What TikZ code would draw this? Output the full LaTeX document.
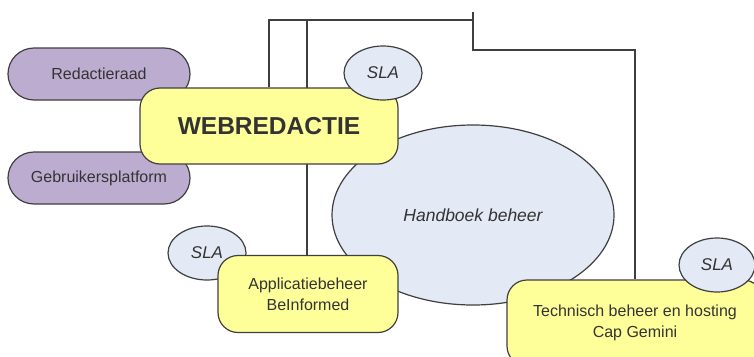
\documentclass[tikz,border=0pt]{standalone}
\usepackage{fontspec}
\setmainfont{Liberation Sans}
\usetikzlibrary{positioning,shapes.geometric,backgrounds}
\definecolor{lilac}{HTML}{BCADD0}
\definecolor{paleyellow}{HTML}{FFFF99}
\definecolor{paleblue}{HTML}{E3E9F5}
\definecolor{edgegray}{HTML}{3F3F3F}
\definecolor{textgray}{HTML}{333333}

\begin{document}
\begin{tikzpicture}[x=1pt, y=-1pt,
  every node/.style={draw=edgegray, line width=1.2pt, inner sep=0pt, text=textgray, align=center},
  pill/.style={fill=lilac, rounded corners=26pt, minimum width=182pt, minimum height=52pt, font=\fontsize{16}{18}\selectfont},
  unit/.style={fill=paleyellow, rounded corners=20pt, font=\fontsize{16}{21}\selectfont},
  sla/.style={ellipse, fill=paleblue, minimum width=78pt, minimum height=54pt, font=\fontsize{17}{20}\selectfont\itshape},
  wire/.style={draw=edgegray, line width=1.2pt}]
\clip (0,0) rectangle (754,356);
% corners of the wiring
\coordinate (k1) at (269,20);
\coordinate (k2) at (307,20);
\coordinate (k3) at (473,20);
\coordinate (tick) at (473,12);
\coordinate (k4) at (473,50);
\coordinate (k5) at (635,50);
\node[ellipse, fill=paleblue, minimum width=282pt, minimum height=180pt, font=\fontsize{17.5}{20}\selectfont\itshape] (handboek) at (473,215) {Handboek beheer};
\node[pill] (raad) at (99,74) {Redactieraad};
\node[pill] (platform) at (99,178) {Gebruikersplatform};
\node[unit, minimum width=258pt, minimum height=76pt, font=\fontsize{24.5}{28}\selectfont\bfseries] (web) at (269,126) {WEBREDACTIE};
\node[sla] (slaweb) at (383,73) {SLA};
\node[sla] (slaapp) at (207,253) {SLA};
\node[unit, minimum width=180pt, minimum height=77pt] (app) at (308,294) {Applicatiebeheer\\BeInformed};
\node[unit, minimum width=256pt, minimum height=86pt] (tech) at (635,323) {Technisch beheer en hosting\\Cap Gemini};
\node[sla, minimum width=76pt] (slatech) at (717,265) {SLA};
% wiring, kept behind the boxes
\begin{pgfonlayer}{background}
\draw[wire] (web.north) -- (k1) -- (k3);
\draw[wire] (app.north -| k2) -- (k2);
\draw[wire] (tick) -- (k4) -- (k5) -- (tech.north -| k5);
\end{pgfonlayer}
\end{tikzpicture}
\end{document}
